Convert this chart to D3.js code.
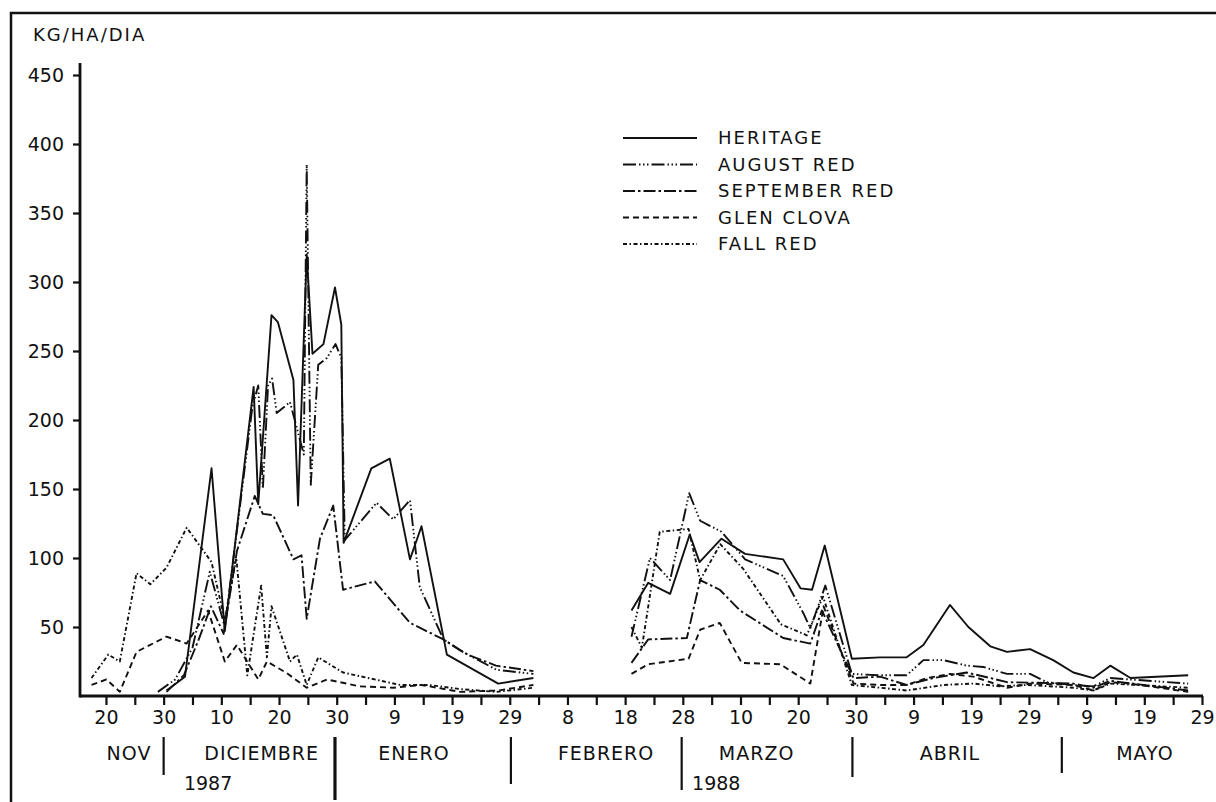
<!DOCTYPE html>
<html>
<head>
<meta charset="utf-8">
<script src="https://cdn.jsdelivr.net/npm/d3@7/dist/d3.min.js"></script>
<style>
    body { margin: 0; background: #fff; }
    text { font-family: "DejaVu Sans", sans-serif; fill: #111; }
</style>
</head>
<body>
<script>
"use strict";

// x = days counted from 20 Nov 1987, y = kg/ha/dia ; null breaks the line (no data in February)
const heritage = [[10.5, 4], [13.7, 14], [18.3, 165], [20.6, 47], [25.6, 224], [26.4, 139], [28.7, 276], [29.8, 271],
    [32.5, 229], [33.3, 138], [34.8, 320], [35.8, 248], [37.7, 255], [39.7, 296], [40.8, 269], [41.2, 111], [46.0, 165],
    [49.2, 172], [52.7, 99], [54.7, 123], [59.1, 30], [68.0, 9], [74.1, 13], null,
    [91.1, 62], [94.0, 82], [97.8, 74], [101.2, 117], [102.9, 97], [106.7, 114], [110.8, 103], [117.4, 99], [120.4, 78],
    [122.4, 77], [124.6, 109], [129.3, 27], [134.2, 28], [138.8, 28], [141.7, 37], [146.3, 66], [149.5, 50], [153.3, 36],
    [156.2, 32], [160.2, 34], [164.2, 26], [167.7, 17], [171.2, 13], [174.1, 22], [177.6, 13], [187.6, 15]];

const augustRed = [[9, 3], [12, 12], [15, 35], [18, 90], [20.6, 50], [22.4, 110], [25.4, 210], [26.4, 225], [27.2, 150],
    [28.1, 225], [28.8, 230], [29.6, 205], [31.9, 213], [34.3, 175], [34.8, 385], [35.5, 153], [36.8, 240], [38.3, 245],
    [39.8, 255], [40.8, 245], [41.4, 113], [46.9, 140], [49.8, 128], [52.7, 142], [54.4, 79], [58.5, 41], [61.4, 33],
    [67.7, 19], [74.1, 16], null,
    [91.1, 43], [94.3, 100], [97.8, 84], [101.1, 147], [103.0, 127], [106.7, 119], [110.8, 99], [117.4, 87], [120.9, 60],
    [122.1, 49], [124.7, 80], [129.3, 16], [134.2, 15], [138.8, 15], [141.7, 26], [145.2, 26], [149.2, 22], [152.1, 21],
    [156.2, 16], [160.2, 16], [163.1, 10], [167.7, 8], [171.2, 7], [174.1, 13], [177.5, 12], [187.6, 9]];

const septemberRed = [[10.5, 3], [13.5, 15], [16, 40], [18.2, 65], [20.4, 45], [22.7, 105], [25.8, 145], [27.2, 132],
    [29, 131], [32.5, 99], [33.9, 102], [34.8, 56], [37.1, 114], [39.4, 138], [41.1, 77], [46.6, 83], [52.7, 53],
    [58.5, 41], [62.7, 30], [67.6, 22], [74.1, 18], null,
    [91.1, 24], [94.0, 41], [100.7, 42], [103.0, 84], [106.4, 77], [109.9, 62], [117.4, 42], [122.1, 38], [124.1, 62],
    [129.6, 13], [134.2, 14], [138.8, 8], [143.4, 13], [149.2, 17], [153.3, 13], [156.2, 10], [167.7, 9], [171.2, 6],
    [174.1, 11], [187.6, 4]];

const glenClova = [[-2.5, 8], [0.1, 12], [2.4, 3], [5.3, 32], [10.5, 43], [14.0, 38], [17.7, 62], [20.6, 25], [22.7, 37],
    [26.4, 12], [27.9, 25], [31.2, 17], [34.8, 6], [38.3, 12], [44.0, 7], [49.8, 6], [54.7, 8], [61.4, 3], [68.0, 4],
    [74.1, 8], null,
    [91.1, 16], [94.0, 23], [101.0, 27], [103.0, 48], [106.4, 53], [110.2, 24], [116.9, 23], [122.1, 9], [124.4, 65],
    [129.6, 9], [134.2, 8], [138.8, 8], [142.3, 13], [146.3, 16], [150.4, 14], [156.2, 6], [160.2, 9], [167.7, 8],
    [171.2, 4], [174.1, 10], [177.5, 9], [187.6, 3]];

const fallRed = [[-2.5, 13], [0.4, 30], [2.4, 25], [5.3, 89], [7.7, 81], [10.5, 93], [14.0, 122], [18.3, 97], [20.6, 55],
    [22.6, 100], [24.5, 15], [26.9, 80], [27.9, 28], [28.7, 65], [31.9, 25], [33.1, 30], [34.8, 8], [36.8, 28], [41.1, 17],
    [51, 8], [56, 8], [61.4, 5], [67.7, 3], [74.1, 6], null,
    [91.1, 50], [92.9, 35], [96.0, 119], [101.0, 121], [103.0, 84], [106.5, 110], [110.5, 92], [117, 52], [121.5, 44],
    [124.3, 72], [129.3, 8], [134.2, 6], [138.8, 4], [145.2, 8], [150.4, 9], [155.0, 7], [159.6, 8], [167.7, 6],
    [171.2, 4], [174.1, 9], [187.6, 6]];

const seriesNames = ["HERITAGE", "AUGUST RED", "SEPTEMBER RED", "GLEN CLOVA", "FALL RED"];
const yTicks = [50, 100, 150, 200, 250, 300, 350, 400, 450];
const dayLabels = ["20", "30", "10", "20", "30", "9", "19", "29", "8", "18", "28", "10", "20", "30", "9", "19", "29", "9", "19", "29"];
const months = ["NOV", "DICIEMBRE", "ENERO", "FEBRERO", "MARZO", "ABRIL", "MAYO"];
const monthCentres = [4.0, 27.0, 53.4, 86.7, 112.8, 146.3, 180.1];
const monthBreaks = [10, 39.7, 70.2, 99.8, 129.4, 165.7];
const years = ["1987", "1988"];
const yearCentres = [17.7, 105.8];

const series = [heritage, augustRed, septemberRed, glenClova, fallRed];
const dashes = ["none", "13 3 1.5 2.5 1.5 2.5 1.5 3", "12 3 2.5 3", "6 4", "4 2.5 1.5 2.5"];

let width = 1216,
    height = 802;

let svg = d3.select("body").append("svg")
    .attr("width", width)
    .attr("height", height);

let x = d3.scaleLinear().domain([-4.5, 190]).range([80, 1202]);
let y = d3.scaleLinear().domain([0, 450]).range([696, 75]);

// frame (top and left only)
svg.append("path")
    .attr("d", "M11,802 V13 H1216")
    .attr("fill", "none")
    .attr("stroke", "#111")
    .attr("stroke-width", 2.5);

svg.append("text")
    .attr("x", 33).attr("y", 41)
    .attr("font-size", 18)
    .attr("letter-spacing", 2)
    .text("KG/HA/DIA");

// y axis
let yAxis = svg.append("g")
    .attr("transform", "translate(" + x(-4.5) + ",0)")
    .call(d3.axisLeft(y).tickValues(yTicks).tickSize(7).tickPadding(9).tickSizeOuter(0));
yAxis.select(".domain").remove();
yAxis.selectAll(".tick line").attr("stroke", "#111").attr("stroke-width", 2.2);
yAxis.selectAll(".tick text").attr("font-size", 19).attr("font-family", "DejaVu Sans").attr("fill", "#111");
svg.append("line")
    .attr("x1", x(-4.5)).attr("x2", x(-4.5))
    .attr("y1", 63).attr("y2", y(0) + 1.5)
    .attr("stroke", "#111").attr("stroke-width", 2.8);

// x axis
let xAxis = svg.append("g")
    .attr("transform", "translate(0," + y(0) + ")")
    .call(d3.axisBottom(x).tickValues(d3.range(0, 191, 5)).tickSize(9).tickPadding(6).tickSizeOuter(0)
        .tickFormat(function (d) { return d % 10 === 0 ? dayLabels[d / 10] : ""; }));
xAxis.select(".domain").remove();
xAxis.selectAll(".tick line").attr("stroke", "#111").attr("stroke-width", 2.2);
xAxis.selectAll(".tick text").attr("font-size", 19).attr("font-family", "DejaVu Sans").attr("fill", "#111");
svg.append("line")
    .attr("x1", x(-4.5)).attr("x2", x(190) + 1)
    .attr("y1", y(0)).attr("y2", y(0))
    .attr("stroke", "#111").attr("stroke-width", 3.2);

// month names, separators, years
svg.selectAll("text.month")
    .data(months)
    .enter().append("text")
    .attr("class", "month")
    .attr("x", function (d, i) { return x(monthCentres[i]); })
    .attr("y", 760)
    .attr("text-anchor", "middle")
    .attr("font-size", 19)
    .attr("letter-spacing", 1)
    .text(function (d) { return d; });

svg.selectAll("line.sep")
    .data(monthBreaks)
    .enter().append("line")
    .attr("class", "sep")
    .attr("x1", function (d) { return x(d); })
    .attr("x2", function (d) { return x(d); })
    .attr("y1", 737)
    .attr("y2", function (d, i) { return [775, 800, 784, 790, 777, 773][i]; })
    .attr("stroke", "#111")
    .attr("stroke-width", function (d, i) { return i === 1 ? 3.2 : 2.2; });

svg.selectAll("text.year")
    .data(years)
    .enter().append("text")
    .attr("class", "year")
    .attr("x", function (d, i) { return x(yearCentres[i]); })
    .attr("y", 790)
    .attr("text-anchor", "middle")
    .attr("font-size", 19)
    .text(function (d) { return d; });

// series
let line = d3.line()
    .defined(function (d) { return d !== null; })
    .x(function (d) { return x(d[0]); })
    .y(function (d) { return y(d[1]); });

svg.selectAll("path.series")
    .data(series)
    .enter().append("path")
    .attr("class", "series")
    .attr("d", line)
    .attr("fill", "none")
    .attr("stroke", "#111")
    .attr("stroke-width", 1.9)
    .attr("stroke-linejoin", "round")
    .attr("stroke-dasharray", function (d, i) { return dashes[i]; });

// legend
let legend = svg.selectAll("g.legend")
    .data(seriesNames)
    .enter().append("g")
    .attr("class", "legend")
    .attr("transform", function (d, i) { return "translate(623," + (138 + i * 26.5) + ")"; });

legend.append("line")
    .attr("x1", 0).attr("x2", 74)
    .attr("stroke", "#111")
    .attr("stroke-width", 1.9)
    .attr("stroke-dasharray", function (d, i) { return dashes[i]; });

legend.append("text")
    .attr("x", 95)
    .attr("dy", "0.36em")
    .attr("font-size", 18)
    .attr("letter-spacing", 2)
    .text(function (d) { return d; });
</script>
</body>
</html>
